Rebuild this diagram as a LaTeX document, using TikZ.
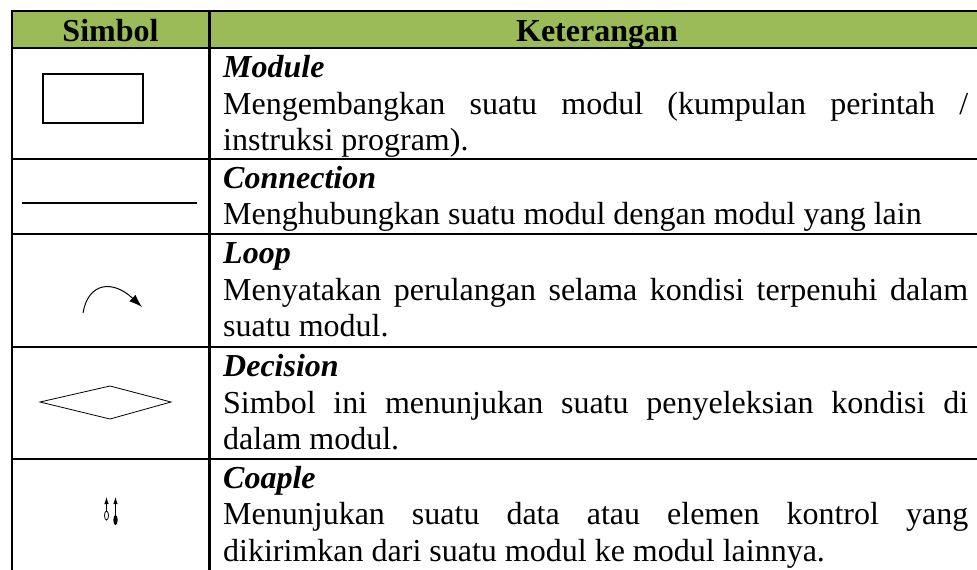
\documentclass[tikz,border=0pt]{standalone}
\usepackage{fontspec}
\setmainfont{Liberation Serif}
\usetikzlibrary{arrows.meta}
\definecolor{hdr}{HTML}{9BBB59}
\tikzset{
  rule/.style={line width=2.4pt},
  txt/.style={anchor=base west, inner sep=0pt, font=\fontsize{32}{36}\selectfont},
  ttl/.style={txt, font=\fontsize{32}{36}\selectfont\bfseries\itshape},
  hd/.style={anchor=base, inner sep=0pt, font=\fontsize{32}{36}\selectfont\bfseries},
}
\newcommand{\jline}[1]{\makebox[745pt][s]{#1}}
\begin{document}
\begin{tikzpicture}[x=1pt,y=-1pt]
\useasboundingbox (0,0) rectangle (977,570);
% header fill
\fill[hdr] (12,11) rectangle (990,48);
% grid
\draw[rule] (12,11) -- (990,11);
\draw[rule] (12,48) -- (990,48);
\draw[rule] (12,159) -- (990,159);
\draw[rule] (12,234) -- (990,234);
\draw[rule] (12,347) -- (990,347);
\draw[rule] (12,459) -- (990,459);
\draw[rule] (12,10) -- (12,580);
\draw[rule] (209.5,10) -- (209.5,580);
% header
\node[hd] (h1) at (110.5,41) {Simbol};
\node[hd] (h2) at (597,41) {Keterangan};
% Module
\draw[line width=1.3pt] (43,74) rectangle (143,123);
\node[ttl] (t1) at (223,77.5) {Module};
\node[txt] (l1a) at (223,114) {\jline{Mengembangkan suatu modul (kumpulan perintah /}};
\node[txt] (l1b) at (223,150.5) {instruksi program).};
% Connection
\draw[line width=1.8pt] (22,203) -- (197,203);
\node[ttl] (t2) at (223,188) {Connection};
\node[txt] (l2a) at (223,224) {Menghubungkan suatu modul dengan modul yang lain};
% Loop
\draw[line width=1pt, -{Latex[length=13pt,width=9pt]}] (83,313) .. controls (88,283) and (112,279) .. (142,307);
\node[ttl] (t3) at (223,263) {Loop};
\node[txt] (l3a) at (223,300) {\jline{Menyatakan perulangan selama kondisi terpenuhi dalam}};
\node[txt] (l3b) at (223,336.5) {suatu modul.};
% Decision
\draw[line width=0.8pt] (40,402) -- (110,386) -- (171,402) -- (110,419) -- cycle;
\node[ttl] (t4) at (223,376) {Decision};
\node[txt] (l4a) at (223,413) {\jline{Simbol ini menunjukan suatu penyeleksian kondisi di}};
\node[txt] (l4b) at (223,449.5) {dalam modul.};
% Coaple
\draw[line width=0.8pt, -{Latex[length=7pt,width=4.5pt]}] (106.5,511) -- (106.5,497);
\draw[line width=0.8pt] (106.5,515.5) ellipse (2pt and 4.5pt);
\draw[line width=0.8pt, -{Latex[length=7pt,width=4.5pt]}] (115.5,516) -- (115.5,497);
\fill (115.5,520) ellipse (2.2pt and 5pt);
\node[ttl] (t5) at (223,488) {Coaple};
\node[txt] (l5a) at (223,524.5) {\jline{Menunjukan suatu data atau elemen kontrol yang}};
\node[txt] (l5b) at (223,561) {dikirimkan dari suatu modul ke modul lainnya.};
\end{tikzpicture}
\end{document}
